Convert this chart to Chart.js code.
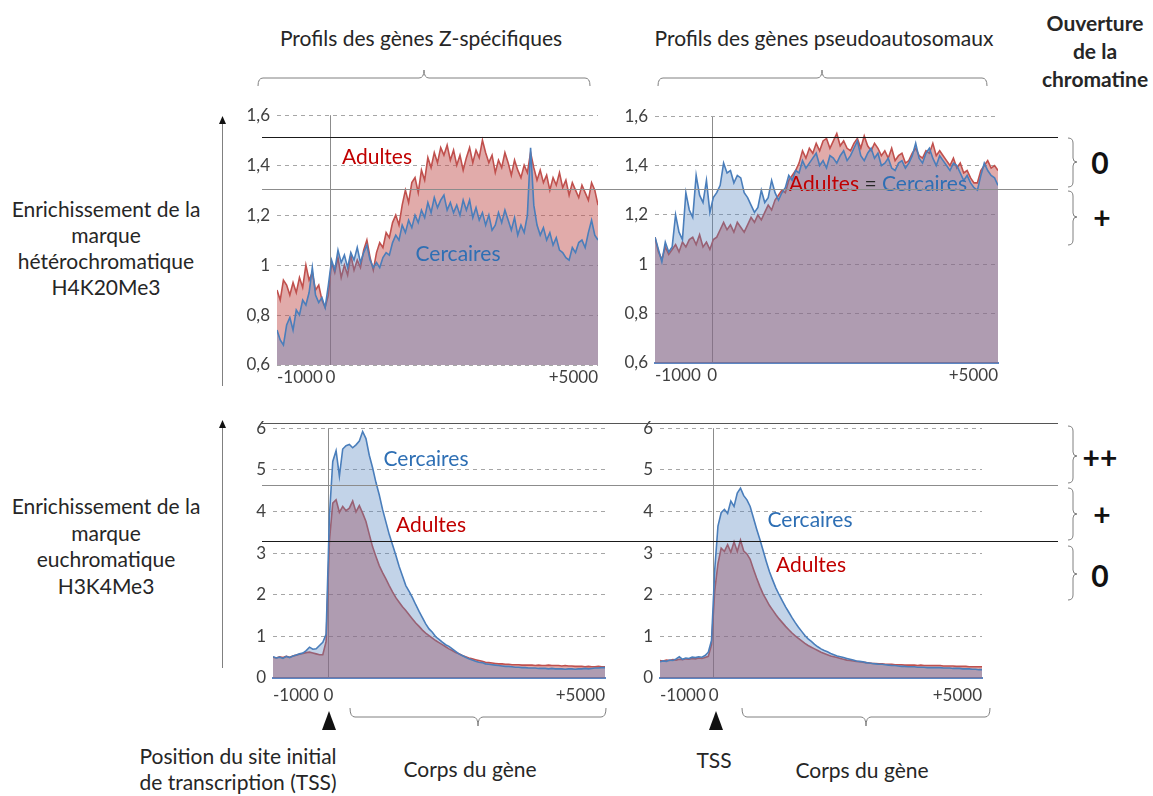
<!DOCTYPE html>
<html lang="fr">
<head>
<meta charset="utf-8">
<title>Profils H4K20Me3 / H3K4Me3</title>
<script src="https://cdn.jsdelivr.net/npm/chart.js@4.4.1/dist/chart.umd.min.js"></script>
<style>
  html, body { margin: 0; padding: 0; background: #fff; }
  #page { position: relative; width: 1153px; height: 796px; overflow: hidden;
          font-family: Lato, "Noto Sans", sans-serif; color: #262626; }
  .box { position: absolute; }
  .t { position: absolute; transform: translate(-50%, -50%); white-space: nowrap;
       font-size: 21px; line-height: 1; }
  .b { font-weight: bold; }
  .big { font-weight: bold; font-size: 30px; color: #111; }
  .red { color: #c00000; }
  .blue { color: #2e6fb4; }
  svg { position: absolute; left: 0; top: 0; pointer-events: none; }
</style>
</head>
<body>
<div id="page">
  <div class="box" style="left:237px; top:98px; width:365px; height:291px;"><canvas id="zH4"></canvas></div>
  <div class="box" style="left:615px; top:99px; width:387px; height:288px;"><canvas id="paH4"></canvas></div>
  <div class="box" style="left:233px; top:411px; width:379px; height:291px;"><canvas id="zH3"></canvas></div>
  <div class="box" style="left:620px; top:411px; width:369px; height:291px;"><canvas id="paH3"></canvas></div>

  <!-- column titles -->
  <div class="t" style="left:421px; top:37px;">Profils des gènes Z-spécifiques</div>
  <div class="t" style="left:824px; top:37px;">Profils des gènes pseudoautosomaux</div>
  <div class="t b" style="left:1095px; top:22px;">Ouverture</div>
  <div class="t b" style="left:1095px; top:50px;">de la</div>
  <div class="t b" style="left:1095px; top:78px;">chromatine</div>

  <!-- row titles -->
  <div class="t" style="left:106px; top:208px;">Enrichissement de la</div>
  <div class="t" style="left:106px; top:234px;">marque</div>
  <div class="t" style="left:106px; top:260px;">hétérochromatique</div>
  <div class="t" style="left:106px; top:286px;">H4K20Me3</div>
  <div class="t" style="left:106px; top:505px;">Enrichissement de la</div>
  <div class="t" style="left:106px; top:532px;">marque</div>
  <div class="t" style="left:106px; top:558px;">euchromatique</div>
  <div class="t" style="left:106px; top:585px;">H3K4Me3</div>

  <!-- series labels -->
  <div class="t red" style="left:377px; top:155px;">Adultes</div>
  <div class="t blue" style="left:458px; top:252px;">Cercaires</div>
  <div class="t" style="left:878px; top:182px;"><span class="red">Adultes</span> = <span class="blue">Cercaires</span></div>
  <div class="t blue" style="left:426px; top:457px;">Cercaires</div>
  <div class="t red" style="left:431px; top:523px;">Adultes</div>
  <div class="t blue" style="left:810px; top:518px;">Cercaires</div>
  <div class="t red" style="left:811px; top:563px;">Adultes</div>

  <!-- chromatin opening scores -->
  <div class="t big" style="left:1100px; top:162px;">0</div>
  <div class="t big" style="left:1102px; top:217px;">+</div>
  <div class="t big" style="left:1100px; top:457px;">++</div>
  <div class="t big" style="left:1102px; top:514px;">+</div>
  <div class="t big" style="left:1100px; top:575px;">0</div>

  <!-- bottom captions -->
  <div class="t" style="left:238px; top:755px;">Position du site initial</div>
  <div class="t" style="left:238px; top:781px;">de transcription (TSS)</div>
  <div class="t" style="left:470px; top:768px;">Corps du gène</div>
  <div class="t" style="left:714px; top:759px;">TSS</div>
  <div class="t" style="left:862px; top:769px;">Corps du gène</div>

  <svg width="1153" height="796" viewBox="0 0 1153 796">
    <g fill="none" stroke="#808080" stroke-width="1">
      <!-- braces above the columns -->
      <path d="M258,86 Q258,78 263,78 L419,78 Q424,78 424,70 Q424,78 429,78 L585,78 Q590,78 590,86"/>
      <path d="M658,86 Q658,78 663,78 L817,78 Q822,78 822,70 Q822,78 827,78 L982,78 Q987,78 987,86"/>
      <!-- braces under the bottom row -->
      <path d="M350,708 Q350,717 355,717 L473,717 Q478,717 478,726 Q478,717 483,717 L601,717 Q606,717 606,708"/>
      <path d="M742,708 Q742,717 747,717 L861,717 Q866,717 866,726 Q866,717 871,717 L985,717 Q990,717 990,708"/>
      <!-- braces beside the scores -->
      <path d="M1068,138 Q1073,138 1073,143 L1073,158 Q1073,162 1077,162 Q1073,162 1073,166 L1073,182 Q1073,187 1068,187"/>
      <path d="M1068,191 Q1073,191 1073,196 L1073,213 Q1073,217 1077,217 Q1073,217 1073,221 L1073,240 Q1073,245 1068,245"/>
      <path d="M1068,426 Q1073,426 1073,431 L1073,452 Q1073,456 1077,456 Q1073,456 1073,460 L1073,478 Q1073,483 1068,483"/>
      <path d="M1068,488 Q1073,488 1073,493 L1073,510 Q1073,514 1077,514 Q1073,514 1073,518 L1073,535 Q1073,540 1068,540"/>
      <path d="M1068,546 Q1073,546 1073,551 L1073,570 Q1073,574 1077,574 Q1073,574 1073,578 L1073,595 Q1073,600 1068,600"/>
      <!-- enrichment arrows -->
      <line x1="222.5" y1="386" x2="222.5" y2="122"/>
      <line x1="222.5" y1="668" x2="222.5" y2="426"/>
    </g>
    <g fill="#111">
      <polygon points="219,124 226,124 222.5,116"/>
      <polygon points="219,428 226,428 222.5,420"/>
      <polygon points="322,730 336,730 329,711"/>
      <polygon points="709,730 723,730 716,711"/>
    </g>
    <!-- thresholds between opening levels -->
    <g stroke-width="1">
      <line x1="262" y1="137.5" x2="1058" y2="137.5" stroke="#1a1a1a"/>
      <line x1="262" y1="189.5" x2="1058" y2="189.5" stroke="#8c8c8c"/>
      <line x1="262" y1="423.5" x2="1058" y2="423.5" stroke="#555"/>
      <line x1="262" y1="485.5" x2="1058" y2="485.5" stroke="#8c8c8c"/>
      <line x1="262" y1="541.5" x2="1058" y2="541.5" stroke="#1a1a1a"/>
    </g>
  </svg>
</div>

<script>
// positions: one sample every STEP bp, from -1000 to +5000 around the TSS
const START = -1000;
const STEP = 60;
const xTicks = [-1000, 0, 5000];

// H4K20Me3, Z-specific genes
const zAdultesH4 = [
  0.90, 0.86, 0.94, 0.92, 0.88, 0.93, 0.89, 0.95, 0.91, 1.00,
  0.94, 0.97, 0.90, 0.92, 0.86, 0.83, 0.88, 1.01, 0.97, 1.03,
  0.95, 1.00, 0.96, 1.04, 0.98, 1.02, 0.99, 1.06, 1.10, 1.03,
  0.98, 1.05, 1.09, 1.07, 1.13, 1.11, 1.17, 1.20, 1.16, 1.24,
  1.30, 1.25, 1.33, 1.35, 1.29, 1.38, 1.34, 1.43, 1.39, 1.45,
  1.41, 1.47, 1.44, 1.48, 1.42, 1.46, 1.40, 1.44, 1.38, 1.43,
  1.47, 1.41, 1.46, 1.43, 1.50, 1.45, 1.41, 1.44, 1.37, 1.42,
  1.39, 1.45, 1.41, 1.36, 1.42, 1.38, 1.35, 1.40, 1.37, 1.45,
  1.39, 1.34, 1.38, 1.33, 1.36, 1.30, 1.35, 1.32, 1.37, 1.31,
  1.34, 1.28, 1.33, 1.30, 1.27, 1.32, 1.29, 1.26, 1.33, 1.30,
  1.24
];
const zCercairesH4 = [
  0.74, 0.70, 0.68, 0.76, 0.79, 0.74, 0.82, 0.80, 0.86, 0.84,
  0.89, 0.99, 0.88, 0.85, 0.87, 0.83, 0.92, 1.02, 0.98, 1.06,
  1.01, 1.04, 0.99, 1.05, 1.02, 1.07, 1.01, 1.05, 1.08, 1.02,
  0.99, 1.01, 0.99, 1.03, 1.05, 1.04, 1.09, 1.12, 1.10, 1.16,
  1.13, 1.18, 1.15, 1.20, 1.17, 1.22, 1.19, 1.25, 1.21, 1.27,
  1.23, 1.26, 1.28, 1.22, 1.25, 1.21, 1.24, 1.20, 1.26, 1.22,
  1.26, 1.19, 1.23, 1.18, 1.21, 1.16, 1.20, 1.14, 1.16, 1.21,
  1.17, 1.22, 1.18, 1.14, 1.19, 1.12, 1.16, 1.13, 1.20, 1.47,
  1.24, 1.16, 1.12, 1.15, 1.10, 1.13, 1.08, 1.11, 1.06, 1.05,
  1.03, 1.02, 1.07, 1.05, 1.09, 1.10, 1.07, 1.13, 1.18, 1.12,
  1.10
];

// H4K20Me3, pseudoautosomal genes
const paAdultesH4 = [
  1.11, 1.05, 1.02, 1.07, 1.04, 1.06, 1.08, 1.05, 1.09, 1.07,
  1.10, 1.11, 1.08, 1.12, 1.07, 1.09, 1.06, 1.10, 1.11, 1.14,
  1.17, 1.14, 1.16, 1.13, 1.17, 1.15, 1.13, 1.16, 1.19, 1.17,
  1.20, 1.18, 1.21, 1.24, 1.22, 1.26, 1.28, 1.30, 1.29, 1.34,
  1.36, 1.38, 1.41, 1.46, 1.43, 1.47, 1.45, 1.49, 1.46, 1.50,
  1.51, 1.47, 1.50, 1.53, 1.48, 1.50, 1.47, 1.46, 1.49, 1.51,
  1.47, 1.52, 1.48, 1.46, 1.49, 1.47, 1.44, 1.46, 1.43, 1.47,
  1.42, 1.44, 1.45, 1.41, 1.42, 1.45, 1.47, 1.44, 1.43, 1.46,
  1.45, 1.49, 1.44, 1.46, 1.44, 1.42, 1.40, 1.43, 1.39, 1.41,
  1.37, 1.38, 1.35, 1.33, 1.33, 1.38, 1.40, 1.42, 1.39, 1.40,
  1.38
];
const paCercairesH4 = [
  1.11, 1.06, 1.01, 1.09, 1.05, 1.07, 1.20, 1.13, 1.10, 1.29,
  1.22, 1.19, 1.36, 1.28, 1.25, 1.34, 1.21, 1.27, 1.29, 1.32,
  1.41, 1.37, 1.38, 1.33, 1.36, 1.35, 1.29, 1.27, 1.24, 1.21,
  1.23, 1.30, 1.25, 1.27, 1.34, 1.29, 1.26, 1.29, 1.31, 1.36,
  1.34, 1.38, 1.37, 1.42, 1.39, 1.41, 1.43, 1.45, 1.40, 1.42,
  1.39, 1.44, 1.43, 1.41, 1.44, 1.46, 1.42, 1.44, 1.47, 1.50,
  1.44, 1.42, 1.45, 1.47, 1.43, 1.45, 1.40, 1.41, 1.43, 1.39,
  1.38, 1.41, 1.42, 1.39, 1.41, 1.44, 1.49, 1.43, 1.41, 1.45,
  1.47, 1.43, 1.40, 1.44, 1.42, 1.40, 1.38, 1.41, 1.40, 1.37,
  1.34, 1.36, 1.33, 1.31, 1.30, 1.36, 1.41, 1.38, 1.36, 1.35,
  1.32
];

// H3K4Me3, Z-specific genes
const zAdultesH3 = [
  0.50, 0.48, 0.51, 0.49, 0.52, 0.50, 0.53, 0.55, 0.57, 0.59,
  0.61, 0.62, 0.60, 0.58, 0.56, 0.56, 0.88, 3.30, 4.20, 4.28,
  3.98, 4.12, 4.02, 4.08, 4.25, 3.99, 4.14, 3.96, 3.76, 3.45,
  3.15, 2.92, 2.70, 2.53, 2.38, 2.22, 2.07, 1.93, 1.82, 1.71,
  1.62, 1.52, 1.42, 1.32, 1.24, 1.15, 1.08, 1.02, 0.96, 0.90,
  0.85, 0.80, 0.75, 0.70, 0.66, 0.61, 0.58, 0.54, 0.51, 0.48,
  0.46, 0.44, 0.42, 0.40, 0.38, 0.37, 0.36, 0.35, 0.34, 0.34,
  0.33, 0.33, 0.32, 0.32, 0.32, 0.31, 0.31, 0.31, 0.31, 0.30,
  0.31, 0.30, 0.30, 0.31, 0.30, 0.30, 0.30, 0.29, 0.30, 0.29,
  0.29, 0.28, 0.28, 0.28, 0.27, 0.28, 0.27, 0.27, 0.28, 0.27,
  0.27
];
const zCercairesH3 = [
  0.51, 0.48, 0.50, 0.47, 0.52, 0.49, 0.53, 0.55, 0.58, 0.60,
  0.66, 0.74, 0.69, 0.70, 0.78, 0.86, 1.05, 3.90, 5.20, 5.46,
  4.85, 5.50, 5.58, 5.61, 5.53, 5.60, 5.69, 5.92, 5.75, 5.35,
  5.05, 4.70, 4.40, 4.05, 3.75, 3.45, 3.20, 2.95, 2.68, 2.45,
  2.22, 2.08, 1.93, 1.76, 1.60, 1.45, 1.30, 1.18, 1.10, 0.99,
  0.93, 0.86, 0.80, 0.76, 0.70, 0.64, 0.58, 0.54, 0.50, 0.46,
  0.43, 0.40, 0.38, 0.37, 0.34, 0.33, 0.32, 0.31, 0.30, 0.29,
  0.28, 0.28, 0.27, 0.26, 0.26, 0.25, 0.25, 0.24, 0.24, 0.24,
  0.23, 0.23, 0.23, 0.22, 0.23, 0.22, 0.22, 0.22, 0.21, 0.22,
  0.22, 0.21, 0.22, 0.22, 0.23, 0.22, 0.23, 0.24, 0.24, 0.25,
  0.25
];

// H3K4Me3, pseudoautosomal genes
const paAdultesH3 = [
  0.42, 0.41, 0.43, 0.42, 0.44, 0.43, 0.45, 0.44, 0.46, 0.45,
  0.47, 0.46, 0.48, 0.47, 0.49, 0.52, 0.80, 2.10, 2.75, 3.12,
  3.04, 3.20, 3.02, 3.27, 3.04, 3.31, 3.05, 2.98, 2.85, 2.62,
  2.40, 2.20, 2.02, 1.88, 1.74, 1.63, 1.52, 1.42, 1.33, 1.24,
  1.16, 1.08, 1.01, 0.95, 0.89, 0.83, 0.78, 0.74, 0.70, 0.66,
  0.62, 0.59, 0.56, 0.53, 0.51, 0.49, 0.47, 0.45, 0.43, 0.42,
  0.41, 0.40, 0.39, 0.38, 0.37, 0.36, 0.35, 0.35, 0.34, 0.34,
  0.33, 0.33, 0.33, 0.32, 0.32, 0.32, 0.31, 0.31, 0.31, 0.31,
  0.30, 0.31, 0.30, 0.30, 0.30, 0.30, 0.30, 0.30, 0.29, 0.29,
  0.29, 0.29, 0.28, 0.28, 0.28, 0.28, 0.27, 0.27, 0.27, 0.27,
  0.27
];
const paCercairesH3 = [
  0.39, 0.41, 0.40, 0.43, 0.42, 0.46, 0.51, 0.45, 0.48, 0.47,
  0.50, 0.49, 0.51, 0.50, 0.54, 0.62, 0.90, 2.60, 3.65, 3.97,
  4.05, 3.95, 4.25, 4.12, 4.44, 4.56, 4.38, 4.28, 4.12, 3.85,
  3.58, 3.33, 3.07, 2.80, 2.55, 2.35, 2.16, 2.00, 1.85, 1.71,
  1.58, 1.45, 1.33, 1.22, 1.12, 1.02, 0.94, 0.88, 0.81, 0.75,
  0.70, 0.66, 0.63, 0.59, 0.56, 0.53, 0.51, 0.49, 0.47, 0.45,
  0.43, 0.41, 0.40, 0.39, 0.37, 0.36, 0.35, 0.34, 0.33, 0.33,
  0.32, 0.31, 0.30, 0.30, 0.29, 0.28, 0.28, 0.27, 0.27, 0.27,
  0.26, 0.26, 0.26, 0.25, 0.25, 0.25, 0.25, 0.25, 0.24, 0.24,
  0.24, 0.23, 0.23, 0.23, 0.22, 0.22, 0.22, 0.21, 0.21, 0.20,
  0.20
];

const RED = '#c0504d';
const BLUE = '#4a7ebb';

Chart.defaults.font.family = 'Lato, "Noto Sans", sans-serif';
Chart.defaults.color = '#404040';

const toPoints = values => values.map((y, i) => ({ x: START + i * STEP, y }));
const fmtFr = v => String(Math.round(v * 10) / 10).replace('.', ',');
const fmtPos = v => (v > 0 ? '+' + v : String(v));

function drawProfile(id, adultes, cercaires, yMin, yMax, yStep, o) {
  new Chart(document.getElementById(id), {
    type: 'line',
    data: {
      datasets: [
        // Cercaires first so that it is painted last, over the Adultes area
        {
          label: 'Cercaires',
          data: toPoints(cercaires),
          borderColor: BLUE,
          backgroundColor: 'rgba(79,129,189,0.35)',
          borderWidth: 1.6,
          fill: 'start'
        },
        {
          label: 'Adultes',
          data: toPoints(adultes),
          borderColor: RED,
          backgroundColor: 'rgba(192,80,77,0.48)',
          borderWidth: 1.6,
          fill: 'start'
        }
      ]
    },
    options: {
      responsive: true,
      maintainAspectRatio: false,
      animation: false,
      devicePixelRatio: 1,
      layout: { padding: { top: 12, right: 4, left: 0, bottom: 0 } },
      elements: { point: { radius: 0 }, line: { tension: 0 } },
      plugins: { legend: { display: false }, tooltip: { enabled: false } },
      scales: {
        x: {
          type: 'linear',
          min: START,
          max: 5000,
          afterBuildTicks: s => { s.ticks = xTicks.map(value => ({ value })); },
          afterFit: s => { s.height = 24; },
          grid: {
            drawTicks: false,
            color: c => (c.tick && c.tick.value === 0 ? '#8c8c8c' : 'rgba(0,0,0,0)')
          },
          border: o.baseline
            ? { display: true, color: '#5b87c4', width: 2 }
            : { display: false },
          ticks: {
            align: 'inner',
            autoSkip: false,
            maxRotation: 0,
            padding: o.xPad,
            font: { size: 17 },
            callback: fmtPos
          }
        },
        y: {
          min: yMin,
          max: yMax,
          afterFit: s => { s.width = 40; },
          grid: { drawTicks: false, color: '#a6a6a6' },
          border: { display: false, dash: [4, 4] },
          ticks: { stepSize: yStep, padding: 7, font: { size: 17 }, callback: fmtFr }
        }
      }
    }
  });
}

drawProfile('zH4', zAdultesH4, zCercairesH4, 0.6, 1.6, 0.2, { xPad: 2, baseline: false });
drawProfile('paH4', paAdultesH4, paCercairesH4, 0.6, 1.6, 0.2, { xPad: 2, baseline: true });
drawProfile('zH3', zAdultesH3, zCercairesH3, 0, 6, 1, { xPad: 7, baseline: true });
drawProfile('paH3', paAdultesH3, paCercairesH3, 0, 6, 1, { xPad: 7, baseline: true });
</script>
</body>
</html>
